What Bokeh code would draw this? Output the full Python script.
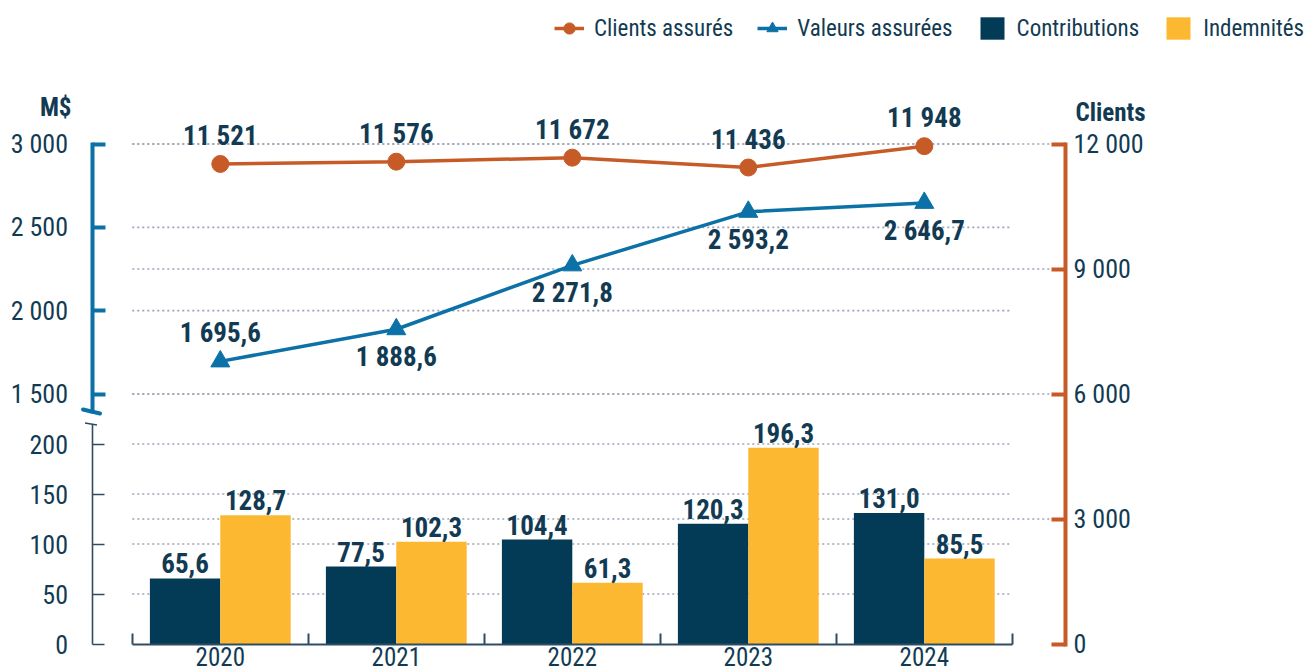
from bokeh.plotting import figure
from bokeh.models import (Range1d, LinearAxis, FixedTicker, Legend, LegendItem, Label,
                          ColumnDataSource, CustomJSTickFormatter)
from bokeh.transform import dodge
from bokeh.core.properties import value
from bokeh.embed import file_html
from bokeh.resources import INLINE

# ---------------- data ----------------
years = ["2020", "2021", "2022", "2023", "2024"]
contributions = [65.6, 77.5, 104.4, 120.3, 131.0]
indemnites = [128.7, 102.3, 61.3, 196.3, 85.5]
valeurs_assurees = [1695.6, 1888.6, 2271.8, 2593.2, 2646.7]
clients_assures = [11521, 11576, 11672, 11436, 11948]
bar_ticks = [0, 50, 100, 150, 200]
value_ticks = [1500, 2000, 2500, 3000]
client_ticks = [0, 3000, 6000, 9000, 12000]
series_names = ["Clients assurés", "Valeurs assurées", "Contributions", "Indemnités"]
left_title = "M$"
right_title = "Clients"

# ---------------- style ----------------
FONT = "Roboto Condensed, DejaVu Sans Condensed, Roboto"
NAVY_TXT = "#123b53"
NAVY_BAR = "#033a55"
YELLOW = "#fcb830"
ORANGE = "#c75b27"
BLUE = "#0b71a6"
GRID = "#9ba3b8"
AXIS_NAVY = "#2f4d62"

W, H = 1306, 671
ZERO_Y = 643.5               # pixel row of value 0 (frame spans the whole canvas)
CAT_PX = 176.0
FIRST_CAT = 219.8
LEFT_AX_PX, RIGHT_AX_PX = 91.5, 1065.0
BAR_K, VAL_K, CLI_K = 1.0, 6.0, 24.0   # units per pixel
label_side = [-1, 1, 1, 1, 1]           # "Valeurs assurées" labels: -1 above, +1 below

px = 1.0 / CAT_PX
x0 = (0 - FIRST_CAT) / CAT_PX
x1 = (W - FIRST_CAT) / CAT_PX
xa = (LEFT_AX_PX - FIRST_CAT) / CAT_PX
xb = (RIGHT_AX_PX - FIRST_CAT) / CAT_PX
below = H - ZERO_Y

def fr(v, d):
    s = f"{v:,.{d}f}"
    return s.replace(",", " ").replace(".", ",")

THOUSANDS_JS = 'return Math.round(tick).toString().replace(/\\B(?=(\\d{3})+(?!\\d))/g, " ");'

p = figure(width=W, height=H, output_backend="svg", toolbar_location=None,
           x_range=Range1d(x0, x1), y_range=Range1d(-below * BAR_K, ZERO_Y * BAR_K),
           y_axis_location=None,
           min_border_left=0, min_border_right=0, min_border_top=0, min_border_bottom=0)
p.extra_y_ranges = {"val": Range1d(-below * VAL_K, ZERO_Y * VAL_K),
                    "cli": Range1d(-below * CLI_K, ZERO_Y * CLI_K)}
p.outline_line_color = None
p.xgrid.visible = False
p.ygrid.visible = False
for g in p.grid:
    g.visible = False

# ---------- dotted grid lines ----------
g_bar = [t for t in bar_ticks if t > 0]
p.segment(x0=[-0.5] * len(g_bar), x1=[4.5] * len(g_bar), y0=g_bar, y1=g_bar,
          line_color=GRID, line_width=1.6, line_dash="2 3")
p.segment(x0=[-0.5] * len(value_ticks), x1=[4.5] * len(value_ticks), y0=value_ticks, y1=value_ticks,
          y_range_name="val", line_color=GRID, line_width=1.6, line_dash="2 3")
g_cli = [t for t in client_ticks if t > 0]
p.segment(x0=[-0.5] * len(g_cli), x1=[xb - 15 * px] * len(g_cli), y0=g_cli, y1=g_cli,
          y_range_name="cli", line_color=GRID, line_width=1.6, line_dash="2 3")

# ---------- bars ----------
xs = list(range(len(years)))
bsrc = ColumnDataSource(dict(x=xs, c=contributions, i=indemnites,
                             cl=[fr(v, 1) for v in contributions],
                             il=[fr(v, 1) for v in indemnites]))
b1 = p.vbar(x=dodge("x", -0.2, range=p.x_range), top="c", width=0.4, source=bsrc,
            fill_color=NAVY_BAR, line_color=None)
b2 = p.vbar(x=dodge("x", 0.2, range=p.x_range), top="i", width=0.4, source=bsrc,
            fill_color=YELLOW, line_color=None)
for col, lab, off in (("c", "cl", -0.2), ("i", "il", 0.2)):
    p.text(x=dodge("x", off, range=p.x_range), y=col, text=lab, source=bsrc,
           text_align="center", text_baseline="bottom", y_offset=-5,
           text_font=value(FONT), text_font_style="bold", text_font_size="27px",
           text_color=NAVY_TXT)

# ---------- lines ----------
lsrc = ColumnDataSource(dict(x=xs, v=valeurs_assurees, c=clients_assures,
                             vl=[fr(v, 1) for v in valeurs_assurees],
                             cl=[fr(v, 0) for v in clients_assures],
                             voff=[28 * s for s in label_side]))
cl_line = p.line(x="x", y="c", source=lsrc, y_range_name="cli", line_color=ORANGE, line_width=3.5)
cl_pts = p.scatter(x="x", y="c", source=lsrc, y_range_name="cli", marker="circle", size=17,
                   fill_color=ORANGE, line_color=ORANGE)
v_line = p.line(x="x", y="v", source=lsrc, y_range_name="val", line_color=BLUE, line_width=3.5)
v_pts = p.scatter(x="x", y="v", source=lsrc, y_range_name="val", marker="triangle", size=19,
                  fill_color=BLUE, line_color=BLUE)
p.text(x="x", y="c", text="cl", source=lsrc, y_range_name="cli", text_align="center",
       text_baseline="middle", y_offset=-28, text_font=value(FONT), text_font_style="bold",
       text_font_size="27px", text_color=NAVY_TXT)
p.text(x="x", y="v", text="vl", source=lsrc, y_range_name="val", text_align="center",
       text_baseline="middle", y_offset="voff", text_font=value(FONT), text_font_style="bold",
       text_font_size="27px", text_color=NAVY_TXT)

# ---------- broken left axis: two real axes at the same place ----------
def style_axis(ax, color, width, tick_len, standoff):
    ax.axis_line_color = color
    ax.axis_line_width = width
    ax.major_tick_line_color = color
    ax.major_tick_line_width = width
    ax.major_tick_in = tick_len
    ax.major_tick_out = 0
    ax.minor_tick_line_color = None
    ax.major_label_standoff = standoff
    ax.major_label_text_font = FONT
    ax.major_label_text_font_size = "26px"
    ax.major_label_text_color = NAVY_TXT

ax_low = LinearAxis(ticker=FixedTicker(ticks=bar_ticks), bounds=(0, 220),
                    formatter=CustomJSTickFormatter(code=THOUSANDS_JS), fixed_location=xa)
style_axis(ax_low, AXIS_NAVY, 1.6, 12, 24)
ax_top = LinearAxis(y_range_name="val", ticker=FixedTicker(ticks=value_ticks), bounds=(1395, 3000),
                    formatter=CustomJSTickFormatter(code=THOUSANDS_JS), fixed_location=xa)
style_axis(ax_top, BLUE, 4, 13, 24)
ax_top.axis_line_cap = "square"
p.add_layout(ax_low, "left")
p.add_layout(ax_top, "left")

# break marks
p.segment(x0=[xa - 9 * px], x1=[xa + 8 * px], y0=[1395 + 2 * VAL_K], y1=[1395 - 2 * VAL_K],
          y_range_name="val", line_color=BLUE, line_width=4, line_cap="round")
p.segment(x0=[xa - 7 * px], x1=[xa + 5 * px], y0=[221], y1=[219],
          line_color=AXIS_NAVY, line_width=1.6)

# ---------- right axis ----------
rax = LinearAxis(y_range_name="cli", ticker=FixedTicker(ticks=client_ticks),
                 formatter=CustomJSTickFormatter(code=THOUSANDS_JS),
                 bounds=(min(client_ticks), max(client_ticks)), fixed_location=xb)
style_axis(rax, ORANGE, 4, 14, 8)
rax.axis_line_cap = "square"
p.add_layout(rax, "right")

# ---------- x axis ----------
xax = p.xaxis[0]
xax.fixed_location = 0
xax.ticker = FixedTicker(ticks=xs, minor_ticks=[i - 0.5 for i in range(len(years) + 1)])
xax.formatter = CustomJSTickFormatter(args=dict(labels=years),
                                      code="return labels[Math.round(tick)] ?? '';")
xax.bounds = (-0.5, len(years) - 0.5)
xax.axis_line_color = AXIS_NAVY
xax.axis_line_width = 2
xax.major_tick_line_color = None
xax.minor_tick_line_color = AXIS_NAVY
xax.minor_tick_line_width = 2
xax.minor_tick_in = 11
xax.minor_tick_out = 0
xax.major_label_standoff = -3
xax.major_label_text_font = FONT
xax.major_label_text_font_size = "25px"
xax.major_label_text_color = NAVY_TXT

# ---------- axis titles ----------
p.add_layout(Label(x=71, y=H - 106.5, x_units="screen", y_units="screen",
                   text=left_title, text_align="right", text_baseline="middle",
                   text_font=FONT, text_font_style="bold", text_font_size="25px",
                   text_color=NAVY_TXT))
p.add_layout(Label(x=1075, y=H - 112, x_units="screen", y_units="screen",
                   text=right_title, text_align="left", text_baseline="middle",
                   text_font=FONT, text_font_style="bold", text_font_size="25px",
                   text_color=NAVY_TXT))

# ---------- legend ----------
legend = Legend(items=[
    LegendItem(label=series_names[0], renderers=[cl_line, cl_pts]),
    LegendItem(label=series_names[1], renderers=[v_line, v_pts]),
    LegendItem(label=series_names[2], renderers=[b1]),
    LegendItem(label=series_names[3], renderers=[b2]),
], orientation="horizontal", location=(554, H - 42),
    glyph_width=30, glyph_height=28, label_standoff=10, spacing=24,
    padding=0, margin=0, background_fill_alpha=0, border_line_alpha=0,
    label_text_font=FONT, label_text_font_size="23px", label_text_color=NAVY_TXT)
p.add_layout(legend)

open("out.html", "w").write(file_html(p, INLINE))
